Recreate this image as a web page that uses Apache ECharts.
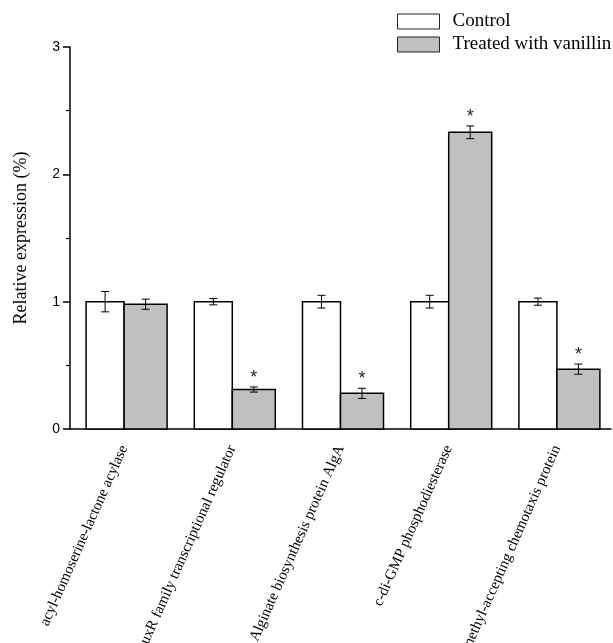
<html>
<head>
    <meta charset="utf-8" />
    <title>Relative expression</title>
    <script src="https://cdn.jsdelivr.net/npm/echarts@6/dist/echarts.min.js"></script>
    <style>
        html, body { margin: 0; padding: 0; background: #fff; }
        #chart { width: 613px; height: 643px; }
    </style>
</head>
<body>
<div id="chart"></div>
<script>
    const categories = [
        'acyl-homoserine-lactone acylase',
        'LuxR family transcriptional regulator',
        'Alginate biosynthesis protein AlgA',
        'c-di-GMP phosphodiesterase',
        'methyl-accepting chemotaxis protein'
    ];
    const controlMean = [1.0, 1.0, 1.0, 1.0, 1.0];
    const controlErr = [0.08, 0.025, 0.05, 0.05, 0.028];
    const treatedMean = [0.98, 0.31, 0.28, 2.33, 0.47];
    const treatedErr = [0.04, 0.02, 0.04, 0.05, 0.04];
    const significant = [false, true, true, true, true];
    const yTicks = [0, 1, 2, 3];

    const serif = '"Liberation Serif", "Times New Roman", serif';
    const sans = '"Liberation Sans", Arial, sans-serif';

    // control sits left of the category centre, treated right of it
    const wControl = 38, wTreated = 43;

    function barRender(left, width, fill) {
        return function (params, api) {
            const i = api.value(0);
            const top = api.coord([i, api.value(1)]);
            const base = api.coord([i, 0]);
            return {
                type: 'rect',
                shape: { x: top[0] + left, y: top[1], width: width, height: base[1] - top[1] },
                style: { fill: fill, stroke: '#000', lineWidth: 1.5 }
            };
        };
    }

    function errorRender(offset, withStar) {
        return function (params, api) {
            const i = api.value(0);
            const m = api.value(1);
            const e = api.value(2);
            const top = api.coord([i, m + e]);
            const bot = api.coord([i, m - e]);
            const x = top[0] + offset;
            const cap = 4;
            const style = { stroke: '#000', lineWidth: 1 };
            const children = [
                { type: 'line', shape: { x1: x, y1: top[1], x2: x, y2: bot[1] }, style: style },
                { type: 'line', shape: { x1: x - cap, y1: top[1], x2: x + cap, y2: top[1] }, style: style },
                { type: 'line', shape: { x1: x - cap, y1: bot[1], x2: x + cap, y2: bot[1] }, style: style }
            ];
            if (withStar && significant[i]) {
                children.push({
                    type: 'text',
                    style: {
                        text: '*', x: x, y: top[1],
                        align: 'center', verticalAlign: 'bottom',
                        font: '18px ' + sans, fill: '#222'
                    }
                });
            }
            return { type: 'group', children: children };
        };
    }

    let chart = echarts.init(document.getElementById('chart'));

    chart.setOption({
        animation: false,
        legend: {
            orient: 'vertical',
            left: 397,
            top: 12,
            padding: 0,
            itemWidth: 42,
            itemHeight: 15,
            itemGap: 4,
            icon: 'rect',
            textStyle: { fontFamily: serif, fontSize: 19, color: '#000', padding: [0, 0, 0, 8] },
            data: [
                { name: 'Control', itemStyle: { color: '#fff', borderColor: '#222', borderWidth: 1 } },
                { name: 'Treated with vanillin', itemStyle: { color: '#c0c0c0', borderColor: '#222', borderWidth: 1 } }
            ]
        },
        grid: { left: 70, right: 2, top: 47, bottom: 214, outerBoundsMode: 'none', containLabel: false },
        xAxis: {
            type: 'category',
            data: categories,
            axisLine: { lineStyle: { color: '#000', width: 1.5 } },
            axisTick: { alignWithLabel: true, length: 7, lineStyle: { color: '#000', width: 1.5 } },
            axisLabel: {
                rotate: 66,
                interval: 0,
                margin: 17,
                fontFamily: serif,
                fontSize: 15,
                color: '#000'
            }
        },
        yAxis: {
            type: 'value',
            min: 0,
            max: 3,
            interval: 1,
            name: 'Relative expression (%)',
            nameLocation: 'middle',
            nameGap: 40,
            nameTextStyle: { fontFamily: serif, fontSize: 18, color: '#000' },
            axisLine: { show: true, lineStyle: { color: '#000', width: 1.5 } },
            axisTick: { show: true, length: 7, lineStyle: { color: '#000', width: 1.5 } },
            minorTick: { show: true, splitNumber: 2, length: 4, lineStyle: { color: '#000', width: 1.2 } },
            splitLine: { show: false },
            axisLabel: {
                fontFamily: sans,
                fontSize: 14,
                color: '#000',
                margin: 10,
                formatter: function (v) { return yTicks.indexOf(v) >= 0 ? String(v) : ''; }
            }
        },
        series: [
            {
                name: 'Control',
                type: 'custom',
                renderItem: barRender(-wControl, wControl, '#fff'),
                itemStyle: { color: '#fff', borderColor: '#000' },
                data: controlMean.map(function (m, i) { return [i, m]; })
            },
            {
                name: 'Treated with vanillin',
                type: 'custom',
                renderItem: barRender(0, wTreated, '#c0c0c0'),
                itemStyle: { color: '#c0c0c0', borderColor: '#000' },
                data: treatedMean.map(function (m, i) { return [i, m]; })
            },
            {
                type: 'custom',
                z: 10,
                renderItem: errorRender(-wControl / 2, false),
                data: controlMean.map(function (m, i) { return [i, m, controlErr[i]]; })
            },
            {
                type: 'custom',
                z: 10,
                renderItem: errorRender(wTreated / 2, true),
                data: treatedMean.map(function (m, i) { return [i, m, treatedErr[i]]; })
            }
        ]
    });
</script>
</body>
</html>
